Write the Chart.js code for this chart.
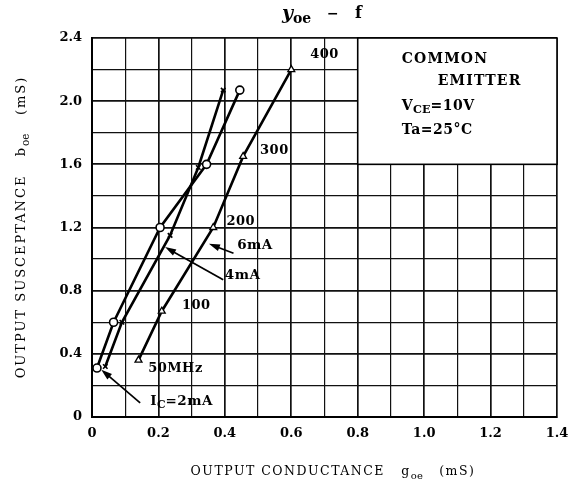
<!DOCTYPE html>
<html>
<head>
<meta charset="utf-8">
<script src="https://cdn.jsdelivr.net/npm/chart.js@4.4.1/dist/chart.umd.min.js"></script>
<style>
  html, body { margin: 0; padding: 0; background: #fff; }
  #wrap { width: 574px; height: 487px; }
</style>
</head>
<body>
<div id="wrap"><canvas id="chart" width="574" height="487"></canvas></div>
<script>
// y_oe - f : output admittance vs frequency (50..400 MHz)
const frequencies = [50, 100, 200, 300, 400];

// I_C = 2mA (open circles)
const g2mA = [0.015, 0.065, 0.205, 0.345, 0.445];
const b2mA = [0.31, 0.60, 1.20, 1.60, 2.07];
// I_C = 4mA (crosses)
const g4mA = [0.04, 0.09, 0.235, 0.32, 0.395];
const b4mA = [0.32, 0.60, 1.15, 1.58, 2.07];
// I_C = 6mA (triangles)
const g6mA = [0.14, 0.21, 0.365, 0.455, 0.60];
const b6mA = [0.36, 0.67, 1.20, 1.65, 2.20];

// frequency labels beside the 6mA curve
const freqLabels = ["50MHz", "100", "200", "300", "400"];
const freqLabelG = [0.169, 0.271, 0.405, 0.506, 0.657];
const freqLabelB = [0.304, 0.704, 1.236, 1.686, 2.295];

// current labels with arrows: text parts [text, isSub], label pos, arrow tail, arrow tip
const currentLabels = [
    { parts: [["I", 0], ["C", 1], ["=2mA", 0]], at: [0.175, 0.101], tail: [0.145, 0.09], tip: [0.028, 0.30] },
    { parts: [["4mA", 0]], at: [0.40, 0.894], tail: [0.395, 0.869], tip: [0.22, 1.076] },
    { parts: [["6mA", 0]], at: [0.437, 1.084], tail: [0.426, 1.037], tip: [0.352, 1.097] },
];

const xTicksMax = 1.4;
const yTicksMax = 2.4;

const FONT = "'DejaVu Serif', 'Liberation Serif', serif";

function drawRich(ctx, parts, x, y, size, bold, spacing) {
    let cx = x;
    parts.forEach(([t, sub]) => {
        const s = sub ? size * 0.8 : size;
        ctx.font = (bold ? "bold " : "") + s + "px " + FONT;
        ctx.letterSpacing = sub ? "0px" : (spacing || "0px");
        ctx.fillText(t, cx, sub ? y + size * 0.3 : y);
        cx += ctx.measureText(t).width;
    });
    return cx - x;
}

function richWidth(ctx, parts, size, bold, spacing) {
    let w = 0;
    parts.forEach(([t, sub]) => {
        const s = sub ? size * 0.8 : size;
        ctx.font = (bold ? "bold " : "") + s + "px " + FONT;
        ctx.letterSpacing = sub ? "0px" : (spacing || "0px");
        w += ctx.measureText(t).width;
    });
    return w;
}

function arrow(ctx, x1, y1, x2, y2) {
    const a = Math.atan2(y2 - y1, x2 - x1);
    const len = 11, half = 3.5;
    ctx.beginPath();
    ctx.moveTo(x1, y1);
    ctx.lineTo(x2 - Math.cos(a) * len * 0.8, y2 - Math.sin(a) * len * 0.8);
    ctx.lineWidth = 1.7;
    ctx.stroke();
    ctx.beginPath();
    ctx.moveTo(x2, y2);
    ctx.lineTo(x2 - Math.cos(a) * len - Math.sin(a) * half, y2 - Math.sin(a) * len + Math.cos(a) * half);
    ctx.lineTo(x2 - Math.cos(a) * len + Math.sin(a) * half, y2 - Math.sin(a) * len - Math.cos(a) * half);
    ctx.closePath();
    ctx.fill();
}

const decorPlugin = {
    id: "decor",
    beforeDatasetsDraw(chart) {
        const { ctx, scales: { x, y } } = chart;
        // condition box in the upper right corner
        const l = x.getPixelForValue(0.8), r = x.getPixelForValue(1.4);
        const t = y.getPixelForValue(2.4), b = y.getPixelForValue(1.6);
        ctx.save();
        ctx.fillStyle = "#fff";
        ctx.fillRect(l, t, r - l, b - t);
        ctx.strokeStyle = "#000";
        ctx.lineWidth = 1.6;
        ctx.strokeRect(l, t, r - l, b - t);
        ctx.fillStyle = "#000";
        ctx.textBaseline = "middle";
        ctx.textAlign = "left";
        ctx.font = "bold 14px " + FONT;
        ctx.letterSpacing = "1.2px";
        ctx.fillText("COMMON", l + 44, t + 21);
        ctx.fillText("EMITTER", l + 80, t + 43);
        drawRich(ctx, [["V", 0], ["CE", 1], ["=10V", 0]], l + 44, t + 68, 14, true, "0.5px");
        ctx.font = "bold 14px " + FONT;
        ctx.letterSpacing = "0.5px";
        ctx.fillText("Ta=25\u00B0C", l + 44, t + 92);
        ctx.restore();
    },
    afterDatasetsDraw(chart) {
        const { ctx, scales: { x, y } } = chart;
        ctx.save();
        ctx.fillStyle = "#000";
        ctx.strokeStyle = "#000";
        ctx.textBaseline = "middle";
        ctx.textAlign = "left";
        ctx.letterSpacing = "0.5px";
        ctx.font = "bold 13px " + FONT;
        freqLabels.forEach((lab, i) => {
            ctx.fillText(lab, x.getPixelForValue(freqLabelG[i]), y.getPixelForValue(freqLabelB[i]));
        });
        currentLabels.forEach((c) => {
            drawRich(ctx, c.parts, x.getPixelForValue(c.at[0]), y.getPixelForValue(c.at[1]), 13.5, true, "0.5px");
            arrow(ctx,
                x.getPixelForValue(c.tail[0]), y.getPixelForValue(c.tail[1]),
                x.getPixelForValue(c.tip[0]), y.getPixelForValue(c.tip[1]));
        });
        ctx.restore();
    },
    afterDraw(chart) {
        const { ctx } = chart;
        ctx.save();
        ctx.fillStyle = "#000";
        ctx.textBaseline = "alphabetic";
        ctx.textAlign = "left";
        // title: y_oe - f
        ctx.font = "italic bold 19px " + FONT;
        ctx.fillText("y", 282, 19);
        ctx.font = "bold 14px " + FONT;
        ctx.fillText("oe", 293, 23);
        ctx.fillText("\u2212", 327, 18);
        ctx.font = "bold 16px " + FONT;
        ctx.fillText("f", 355, 18);

        // x axis title
        const xParts = [["OUTPUT CONDUCTANCE   ", 0], ["g", 0], ["oe", 1], ["   (mS)", 0]];
        const xw = richWidth(ctx, xParts, 12.5, false, "1.5px");
        drawRich(ctx, xParts, 333 - xw / 2, 475, 12.5, false, "1.5px");

        // y axis title (rotated)
        const yParts = [["OUTPUT SUSCEPTANCE   ", 0], ["b", 0], ["oe", 1], ["   (mS)", 0]];
        const yw = richWidth(ctx, yParts, 13, false, "2px");
        ctx.translate(25, 227);
        ctx.rotate(-Math.PI / 2);
        drawRich(ctx, yParts, -yw / 2, 0, 13, false, "2px");
        ctx.restore();
    },
};

function series(g, b) {
    return g.map((v, i) => ({ x: v, y: b[i], f: frequencies[i] }));
}

const ctx = document.getElementById("chart").getContext("2d");
new Chart(ctx, {
    type: "scatter",
    data: {
        datasets: [
            {
                label: "IC=2mA",
                data: series(g2mA, b2mA),
                showLine: true,
                borderColor: "#000",
                borderWidth: 2.6,
                pointStyle: "circle",
                pointRadius: 4,
                pointBackgroundColor: "#fff",
                pointBorderColor: "#000",
                pointBorderWidth: 1.6,
            },
            {
                label: "IC=4mA",
                data: series(g4mA, b4mA),
                showLine: true,
                borderColor: "#000",
                borderWidth: 2.6,
                pointStyle: "crossRot",
                pointRadius: 3.2,
                pointBorderColor: "#000",
                pointBorderWidth: 1.6,
            },
            {
                label: "IC=6mA",
                data: series(g6mA, b6mA),
                showLine: true,
                borderColor: "#000",
                borderWidth: 2.6,
                pointStyle: "triangle",
                pointRadius: 4,
                pointBackgroundColor: "#fff",
                pointBorderColor: "#000",
                pointBorderWidth: 1.3,
            },
        ],
    },
    options: {
        responsive: false,
        animation: false,
        layout: { padding: { top: 38, right: 17, left: 0, bottom: 0 } },
        plugins: {
            legend: { display: false },
            tooltip: { enabled: false },
        },
        scales: {
            x: {
                type: "linear",
                min: 0,
                max: xTicksMax,
                afterFit: (s) => { s.height = 70; s.paddingRight = 0; s.paddingLeft = 0; },
                border: { display: true, color: "#000", width: 2 },
                grid: {
                    drawTicks: false,
                    color: "#111",
                    lineWidth: (c) => (Math.round(c.tick.value * 10) % 2 === 0 ? 1.7 : 1.2),
                },
                ticks: {
                    stepSize: 0.1,
                    padding: 9,
                    maxRotation: 0,
                    autoSkip: false,
                    color: "#000",
                    font: { family: FONT, size: 13, weight: "bold" },
                    callback: (v) => {
                        const k = Math.round(v * 10);
                        if (k % 2 !== 0) return "";
                        return k === 0 ? "0" : (k / 10).toFixed(1);
                    },
                },
            },
            y: {
                type: "linear",
                min: 0,
                max: yTicksMax,
                afterFit: (s) => { s.width = 92; s.paddingTop = 0; s.paddingBottom = 0; },
                border: { display: true, color: "#000", width: 2 },
                grid: {
                    drawTicks: false,
                    color: "#111",
                    lineWidth: (c) => (Math.round(c.tick.value * 10) % 4 === 0 ? 1.7 : 1.2),
                },
                ticks: {
                    stepSize: 0.2,
                    padding: 10,
                    autoSkip: false,
                    color: "#000",
                    font: { family: FONT, size: 13, weight: "bold" },
                    callback: (v) => {
                        const k = Math.round(v * 10);
                        if (k % 4 !== 0) return "";
                        return k === 0 ? "0" : (k / 10).toFixed(1);
                    },
                },
            },
        },
    },
    plugins: [decorPlugin],
});
</script>
</body>
</html>
